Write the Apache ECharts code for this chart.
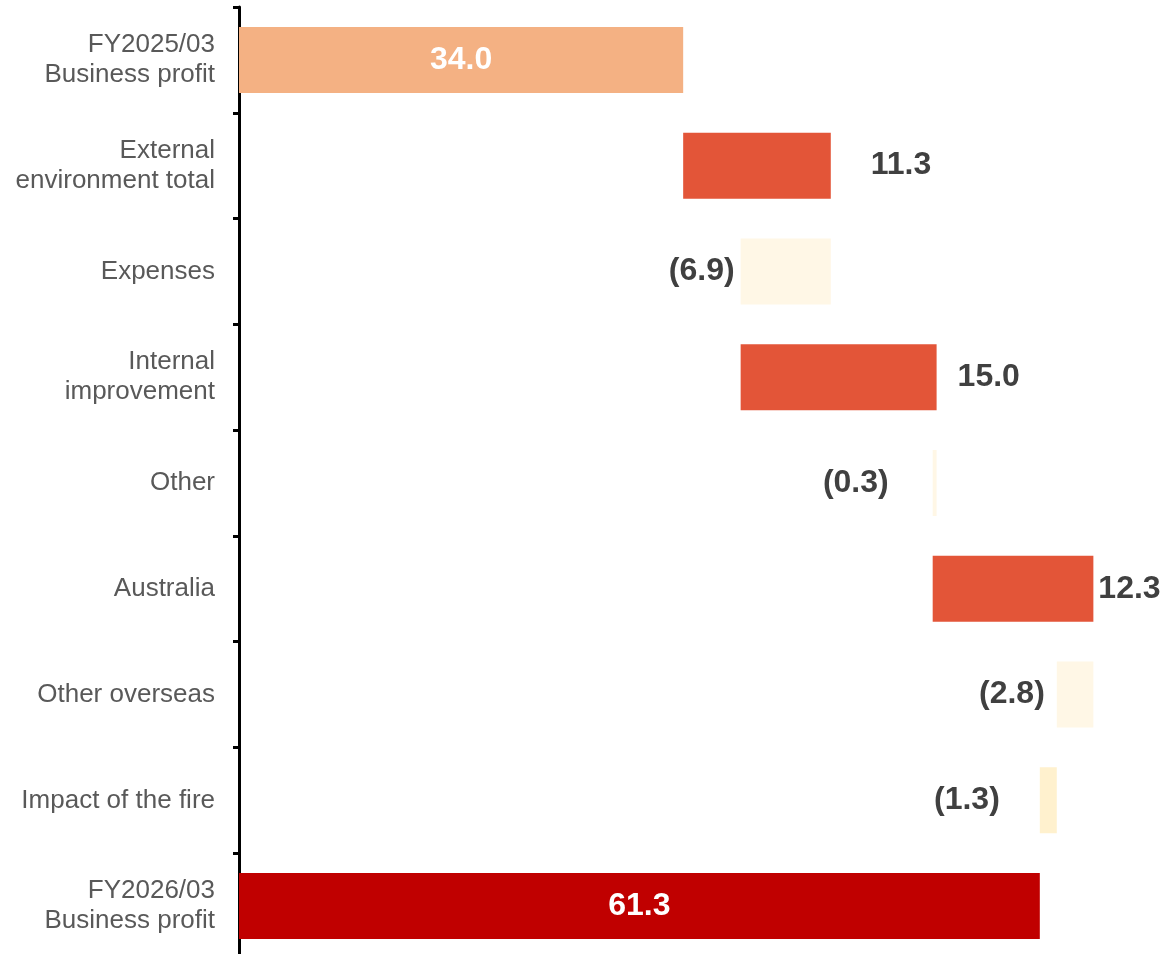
<!DOCTYPE html>
<html>
<head>
<meta charset="utf-8">
<script src="https://cdn.jsdelivr.net/npm/echarts@6/dist/echarts.min.js"></script>
<style>
html,body{margin:0;padding:0;background:#fff;}
#chart{width:1161px;height:954px;}
</style>
</head>
<body>
<div id="chart"></div>
<script>
// ---- data ----
const categories = [
  'FY2025/03\nBusiness profit',
  'External\nenvironment total',
  'Expenses',
  'Internal\nimprovement',
  'Other',
  'Australia',
  'Other overseas',
  'Impact of the fire',
  'FY2026/03\nBusiness profit'
];
const changes = [34.0, 11.3, -6.9, 15.0, -0.3, 12.3, -2.8, -1.3, 61.3];
const kinds = ['start', 'up', 'down', 'up', 'down', 'up', 'down', 'down', 'end'];

// ---- layout / style config ----
const colors = {
  start: '#F4B183', up: '#E35538', down: '#FFF7E6', downFire: '#FFF1CE', end: '#C00000'
};
const labelGaps = [0, 40, 6, 21, 44, 5, 12, 40, 0];

// ---- build waterfall (transparent base + visible delta) ----
const baseVals = [];
const barVals = [];
let running = 0;
changes.forEach((v, i) => {
  const k = kinds[i];
  if (k === 'start' || k === 'end') {
    baseVals.push(0);
    barVals.push(v);
    running = v;
  } else if (v >= 0) {
    baseVals.push(running);
    barVals.push(v);
    running = +(running + v).toFixed(4);
  } else {
    running = +(running + v).toFixed(4);
    baseVals.push(running);
    barVals.push(-v);
  }
});

function fmt(v) {
  return v < 0 ? '(' + Math.abs(v).toFixed(1) + ')' : v.toFixed(1);
}

const barData = barVals.map((v, i) => {
  const k = kinds[i];
  let color = colors[k];
  if (k === 'down' && i === 7) color = colors.downFire;
  const inside = (k === 'start' || k === 'end');
  return {
    value: v,
    itemStyle: { color: color },
    label: {
      show: true,
      formatter: fmt(changes[i]),
      position: inside ? 'inside' : (k === 'up' ? 'right' : 'left'),
      distance: labelGaps[i],
      color: inside ? '#FFFFFF' : '#404040'
    }
  };
});

const chart = echarts.init(document.getElementById('chart'), null, { renderer: 'canvas' });
chart.setOption({
  animation: false,
  backgroundColor: '#ffffff',
  textStyle: { fontFamily: 'Liberation Sans, Arial, sans-serif' },
  grid: { left: 239, width: 921, top: 7, height: 952, containLabel: false, outerBoundsMode: 'none' },
  xAxis: {
    type: 'value', min: 0, max: 70.5,
    show: false
  },
  yAxis: {
    type: 'category',
    data: categories,
    inverse: true,
    axisLine: { show: true, lineStyle: { color: '#000000', width: 3 } },
    axisTick: { show: true, length: 6, lineStyle: { color: '#000000', width: 3 } },
    axisLabel: {
      color: '#595959', fontSize: 26, lineHeight: 30, margin: 24,
      fontFamily: 'Liberation Sans, Arial, sans-serif', align: 'right'
    },
    splitLine: { show: false }
  },
  series: [
    {
      type: 'bar', stack: 'w', data: baseVals, barWidth: 66,
      itemStyle: { color: 'rgba(0,0,0,0)' }, silent: true
    },
    {
      type: 'bar', stack: 'w', data: barData, barWidth: 66,
      label: {
        show: true, fontSize: 32, fontWeight: 'bold',
        fontFamily: 'Liberation Sans, Arial, sans-serif'
      }
    }
  ]
});
</script>
</body>
</html>
